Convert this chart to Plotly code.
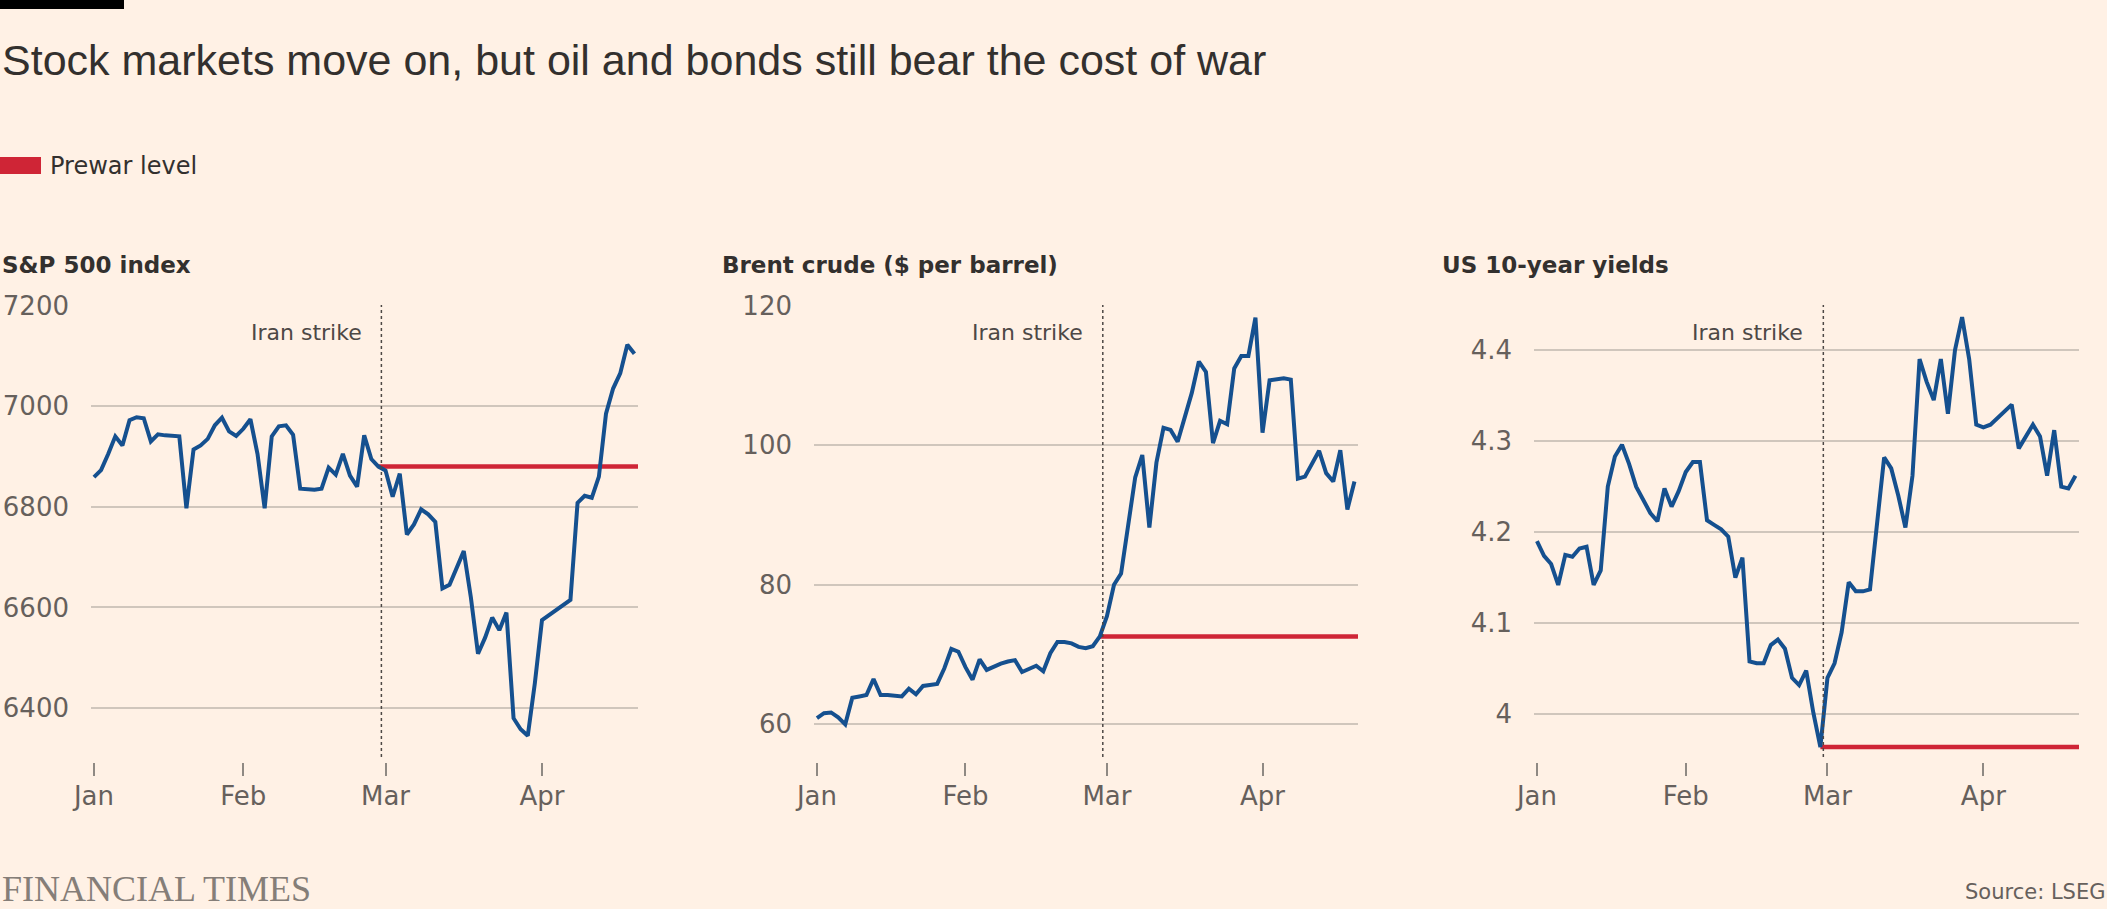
import pandas as pd
import plotly.graph_objects as go

W, H = 2107, 909

# ---------------- data ----------------
dates = pd.bdate_range("2026-01-02", "2026-04-20")  # weekday axis, Jan 2 .. Apr 20

sp500 = [6859, 6873, 6905, 6940, 6922, 6972, 6978, 6976, 6930, 6944,
         6942, 6942, 6940, 6797, 6914, 6922, 6935, 6962, 6977, 6950,
         6941, 6955, 6974, 6905, 6797, 6940, 6960, 6962, 6943, 6836,
         6834, 6834, 6836, 6878, 6864, 6905, 6862, 6840, 6942, 6895,
         6880, 6872, 6820, 6866, 6745, 6765, 6795, 6785, 6770, 6638,
         6645, 6680, 6712, 6620, 6508, 6540, 6580, 6555, 6590, 6380,
         6358, 6345, 6450, 6575, 6585, 6595, 6605, 6615, 6808, 6822,
         6818, 6860, 6985, 7035, 7065, 7122, 7104]

brent = [60.9, 61.6, 61.7, 61.0, 60.0, 63.8, 64.0, 64.2, 66.5, 64.2,
         64.2, 64.1, 64.0, 65.1, 64.3, 65.5, 65.6, 65.8, 68.0, 70.8,
         70.4, 68.2, 66.4, 69.3, 67.8, 68.3, 68.7, 69.0, 69.2, 67.5,
         68.0, 68.4, 67.6, 70.2, 71.8, 71.8, 71.6, 71.1, 70.9, 71.2,
         72.6, 75.5, 80.0, 81.6, 88.5, 95.4, 98.6, 88.2, 97.5, 102.5,
         102.2, 100.5, 104.0, 107.5, 112.0, 110.5, 100.3, 103.5, 103.0, 111.0,
         112.8, 112.8, 118.3, 101.8, 109.3, 109.5, 109.6, 109.4, 95.2, 95.5,
         97.5, 99.2, 96.0, 94.8, 99.3, 90.8, 94.8]

us10y = [4.190, 4.174, 4.165, 4.142, 4.175, 4.173, 4.182, 4.184, 4.142, 4.158,
         4.250, 4.283, 4.296, 4.275, 4.250, 4.236, 4.221, 4.212, 4.248, 4.228,
         4.245, 4.266, 4.277, 4.277, 4.213, 4.208, 4.203, 4.195, 4.150, 4.172,
         4.058, 4.056, 4.056, 4.076, 4.082, 4.072, 4.040, 4.032, 4.048, 4.002,
         3.964, 4.040, 4.056, 4.090, 4.145, 4.135, 4.135, 4.137, 4.210, 4.282,
         4.270, 4.240, 4.205, 4.262, 4.390, 4.365, 4.345, 4.390, 4.330, 4.400,
         4.436, 4.390, 4.318, 4.315, 4.318, 4.325, 4.332, 4.340, 4.292, 4.305,
         4.318, 4.305, 4.262, 4.312, 4.250, 4.248, 4.262]

prewar_sp500 = 6880
prewar_brent = 72.6
prewar_us10y = 3.964

prewar_start = "2026-02-27"          # last close before the strike
strike_marker = "2026-02-27 10:00"   # Iran strike (weekend of Feb 28)

month_ticks = ["2026-01-02", "2026-02-02", "2026-03-02", "2026-04-01"]
month_labels = ["Jan", "Feb", "Mar", "Apr"]

sp_ticks = [6400, 6600, 6800, 7000, 7200]
sp_labels = ["6400", "6600", "6800", "7000", "7200"]
brent_ticks = [60, 80, 100, 120]
brent_labels = ["60", "80", "100", "120"]
yield_ticks = [4.0, 4.1, 4.2, 4.3, 4.4]
yield_labels = ["4", "4.1", "4.2", "4.3", "4.4"]

panel_titles = ["S&P 500 index", "Brent crude ($ per barrel)", "US 10-year yields"]

# ---------------- style ----------------
BG = "#FFF1E5"
BLUE = "#15508F"
RED = "#CF2536"
GRID = "#D0C6BC"
TEXT = "#33302E"
GREY = "#66605C"
FONT = "DejaVu Sans"

X_START = "2026-01-01 14:00"
X_END = "2026-04-20 12:00"


def px_x(x):
    return x / W


def px_y(y):
    return 1 - y / H


plot_top, plot_bottom = 305, 762
y_dom = [px_y(plot_bottom), px_y(plot_top)]
x_doms = [[91, 638], [814, 1358], [1534, 2079]]
panel_left = [0, 720, 1440]
strike_label_right = [364, 1085, 1805]

panels = [
    dict(vals=sp500, prewar=prewar_sp500, yr=[6293, 7201], tv=sp_ticks, tt=sp_labels),
    dict(vals=brent, prewar=prewar_brent, yr=[54.6, 120.1], tv=brent_ticks, tt=brent_labels),
    dict(vals=us10y, prewar=prewar_us10y, yr=[3.9476, 4.4494], tv=yield_ticks, tt=yield_labels),
]

fig = go.Figure()
layout = dict(
    width=W, height=H,
    margin=dict(l=0, r=0, t=0, b=0),
    paper_bgcolor=BG, plot_bgcolor=BG,
    template="none",
    showlegend=False,
    font=dict(family=FONT, color=GREY),
)

shapes = []
annotations = []

for i, p in enumerate(panels):
    n = "" if i == 0 else str(i + 1)
    xa, ya = "x" + n, "y" + n
    fig.add_trace(go.Scatter(
        x=[prewar_start, X_END], y=[p["prewar"], p["prewar"]],
        mode="lines", line=dict(color=RED, width=4.5),
        xaxis=xa, yaxis=ya, hoverinfo="skip"))
    fig.add_trace(go.Scatter(
        x=dates, y=p["vals"], mode="lines",
        line=dict(color=BLUE, width=4),
        xaxis=xa, yaxis=ya))

    x0, x1 = x_doms[i]
    layout["xaxis" + n] = dict(
        domain=[px_x(x0), px_x(x1)], anchor=ya,
        range=[X_START, X_END], type="date",
        rangebreaks=[dict(bounds=["sat", "mon"])],
        tickmode="array", tickvals=month_ticks, ticktext=month_labels,
        ticks="outside", ticklen=13, tickwidth=1.5, tickcolor="#8F8983",
        showgrid=False, showline=False, zeroline=False,
        tickfont=dict(family=FONT, size=26, color=GREY),
        ticklabelstandoff=-2, automargin=False, fixedrange=True)
    layout["yaxis" + n] = dict(
        domain=y_dom, anchor=xa, range=p["yr"],
        tickmode="array", tickvals=p["tv"], ticktext=p["tt"],
        ticks="", showgrid=True, gridcolor=GRID, gridwidth=1.5,
        showline=False, zeroline=False,
        tickfont=dict(family=FONT, size=26, color=GREY),
        ticklabelstandoff=21, automargin=False, fixedrange=True)

    # Iran strike dotted line
    shapes.append(dict(
        type="line", xref=xa, yref=ya + " domain",
        x0=strike_marker, x1=strike_marker,
        y0=(plot_bottom - 757) / (plot_bottom - plot_top), y1=1,
        line=dict(color="#4D4845", width=1.5, dash="dot")))
    annotations.append(dict(
        text="Iran strike", xref="paper", yref="paper",
        x=px_x(strike_label_right[i]), y=px_y(332),
        xanchor="right", yanchor="middle", showarrow=False,
        font=dict(family=FONT, size=22, color="#4D4845")))
    annotations.append(dict(
        text="<b>" + panel_titles[i] + "</b>", xref="paper", yref="paper",
        x=px_x(panel_left[i]), y=px_y(265),
        xanchor="left", yanchor="middle", showarrow=False,
        font=dict(family=FONT, size=23, color=TEXT)))

# top black bar
shapes.append(dict(type="rect", xref="paper", yref="paper",
                   x0=0, x1=px_x(124), y0=px_y(9), y1=1,
                   fillcolor="#000000", line=dict(width=0)))
# legend swatch
shapes.append(dict(type="rect", xref="paper", yref="paper",
                   x0=0, x1=px_x(41), y0=px_y(174), y1=px_y(157),
                   fillcolor=RED, line=dict(width=0)))

annotations += [
    dict(text="Stock markets move on, but oil and bonds still bear the cost of war",
         xref="paper", yref="paper", x=0, y=px_y(60),
         xanchor="left", yanchor="middle", showarrow=False,
         font=dict(family="Liberation Sans", size=43, color=TEXT)),
    dict(text="Prewar level", xref="paper", yref="paper",
         x=px_x(48), y=px_y(166), xanchor="left", yanchor="middle",
         showarrow=False, font=dict(family=FONT, size=24, color=TEXT)),
    dict(text="FINANCIAL TIMES", xref="paper", yref="paper",
         x=0, y=px_y(889), xanchor="left", yanchor="middle",
         showarrow=False, font=dict(family="Liberation Serif", size=36, color="#857E78")),
    dict(text="Source: LSEG", xref="paper", yref="paper",
         x=1, y=px_y(892), xanchor="right", yanchor="middle",
         showarrow=False, font=dict(family=FONT, size=21, color=GREY)),
]

layout["shapes"] = shapes
layout["annotations"] = annotations
fig.update_layout(**layout)

fig.write_html("out.html", config={"displayModeBar": False})
